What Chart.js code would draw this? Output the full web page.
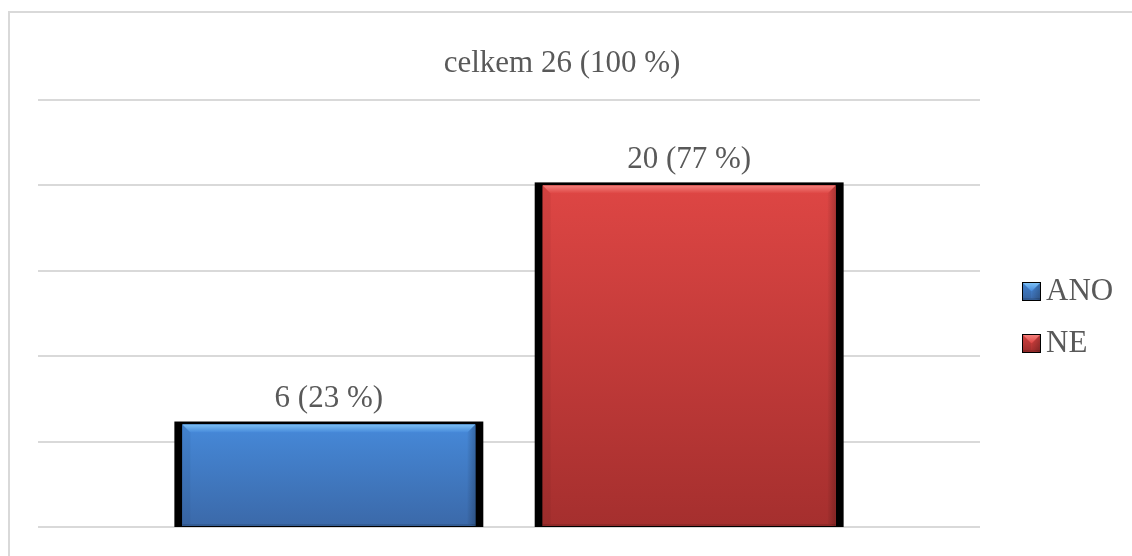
<!DOCTYPE html>
<html>
<head>
<meta charset="utf-8">
<script src="https://cdn.jsdelivr.net/npm/chart.js@4.4.0/dist/chart.umd.min.js"></script>
<style>
    html, body { margin: 0; padding: 0; background: #ffffff; }
    #wrap { position: relative; width: 1132px; height: 556px; }
</style>
</head>
<body>
<div id="wrap"><canvas id="chart" width="1132" height="556"></canvas></div>
<script>
// Data
const categories = [''];
const seriesNames = ['ANO', 'NE'];
const seriesValues = [[6], [20]];
const titleText = 'celkem 26 (100 %)';
const valueLabels = ['6 (23 %)', '20 (77 %)'];

// Colours: body top, body bottom, bevel highlight
const palette = [
    { top: '#4689d9', bottom: '#3b69a9', light: '#7cc0f6' },
    { top: '#de4644', bottom: '#a52f2e', light: '#f4807c' }
];

const TEXT_COLOR = '#595959';
const FONT = '"Liberation Serif", "Times New Roman", serif';

function drawBevelBar(ctx, left, right, top, bottom, col) {
    const b = Math.min(8, (bottom - top) / 2);
    const g = ctx.createLinearGradient(0, top, 0, bottom);
    g.addColorStop(0, col.top);
    g.addColorStop(1, col.bottom);
    ctx.fillStyle = g;
    ctx.fillRect(left, top, right - left, bottom - top);

    // top bevel
    const tg = ctx.createLinearGradient(0, top, 0, top + b);
    tg.addColorStop(0, col.light);
    tg.addColorStop(1, col.top);
    ctx.fillStyle = tg;
    ctx.beginPath();
    ctx.moveTo(left, top);
    ctx.lineTo(right, top);
    ctx.lineTo(right - b, top + b);
    ctx.lineTo(left + b, top + b);
    ctx.closePath();
    ctx.fill();

    // left bevel
    ctx.fillStyle = 'rgba(0,0,0,0.05)';
    ctx.beginPath();
    ctx.moveTo(left, top);
    ctx.lineTo(left + b, top + b);
    ctx.lineTo(left + b, bottom - 2);
    ctx.lineTo(left, bottom);
    ctx.closePath();
    ctx.fill();

    // right bevel, fading towards the inside
    const rg = ctx.createLinearGradient(right - b, 0, right, 0);
    rg.addColorStop(0, 'rgba(0,0,0,0.02)');
    rg.addColorStop(1, 'rgba(0,0,0,0.22)');
    ctx.fillStyle = rg;
    ctx.beginPath();
    ctx.moveTo(right, top);
    ctx.lineTo(right - b, top + b);
    ctx.lineTo(right - b, bottom - 2);
    ctx.lineTo(right, bottom);
    ctx.closePath();
    ctx.fill();

    // bottom edge
    ctx.fillStyle = 'rgba(0,0,0,0.12)';
    ctx.fillRect(left, bottom - 2, right - left, 2);
}

const barDecor = {
    id: 'barDecor',
    beforeDraw(chart) {
        const ctx = chart.ctx;
        ctx.save();
        ctx.fillStyle = '#d9d9d9';
        ctx.fillRect(8, 11, chart.width - 8, 2);
        ctx.fillRect(8, 11, 2, chart.height - 11);
        ctx.restore();
    },
    beforeDatasetsDraw(chart) {
        // black shadow frame behind each bar
        const ctx = chart.ctx;
        ctx.save();
        ctx.fillStyle = '#000000';
        chart.data.datasets.forEach((ds, i) => {
            chart.getDatasetMeta(i).data.forEach(bar => {
                const half = bar.width / 2;
                ctx.fillRect(bar.x - half - 8, bar.y - 3, bar.width + 16, bar.base - bar.y + 4);
            });
        });
        ctx.restore();
    },
    afterDatasetsDraw(chart) {
        const ctx = chart.ctx;
        ctx.save();
        ctx.font = '31px ' + FONT;
        ctx.textBaseline = 'middle';
        chart.data.datasets.forEach((ds, i) => {
            chart.getDatasetMeta(i).data.forEach(bar => {
                const half = bar.width / 2;
                drawBevelBar(ctx, bar.x - half, bar.x + half, bar.y, bar.base, palette[i]);
                ctx.fillStyle = TEXT_COLOR;
                ctx.textAlign = 'center';
                ctx.fillText(valueLabels[i], bar.x, bar.y - 26);
            });
        });

        // title
        ctx.fillStyle = TEXT_COLOR;
        ctx.textAlign = 'center';
        ctx.fillText(titleText, 562, 64);

        // legend
        ctx.textAlign = 'left';
        seriesNames.forEach((name, i) => {
            const y = 291 + i * 52;
            ctx.fillStyle = '#000000';
            ctx.fillRect(1022, y - 9, 19, 19);
            drawBevelBar(ctx, 1023, 1040, y - 8, y + 9, palette[i]);
            ctx.fillStyle = TEXT_COLOR;
            ctx.fillText(name, 1046, y + 1);
        });
        ctx.restore();
    }
};

new Chart(document.getElementById('chart'), {
    type: 'bar',
    data: {
        labels: categories,
        datasets: seriesNames.map((name, i) => ({
            label: name,
            data: seriesValues[i],
            backgroundColor: palette[i].top,
            borderWidth: 0,
            categoryPercentage: 0.765,
            barPercentage: 0.813
        }))
    },
    options: {
        responsive: false,
        animation: false,
        devicePixelRatio: 1,
        layout: {
            padding: { left: 38, right: 152, top: 100, bottom: 29 }
        },
        plugins: {
            legend: { display: false },
            title: { display: false },
            tooltip: { enabled: false }
        },
        scales: {
            x: {
                display: false
            },
            y: {
                min: 0,
                max: 25,
                ticks: { display: false, stepSize: 5 },
                border: { display: false },
                grid: { color: '#d9d9d9', lineWidth: 2, drawTicks: false }
            }
        }
    },
    plugins: [barDecor]
});
</script>
</body>
</html>
